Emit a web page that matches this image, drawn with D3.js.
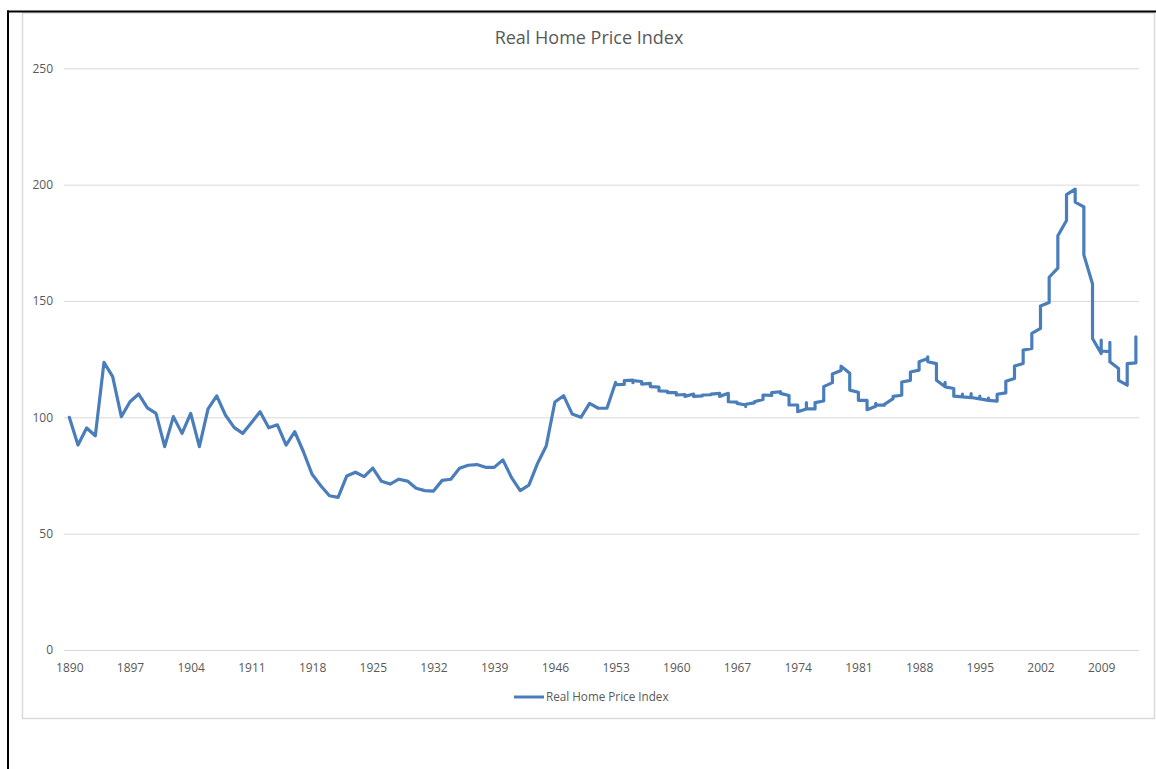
<!DOCTYPE html>
<html>
<head>
<meta charset="utf-8">
<script src="https://cdn.jsdelivr.net/npm/d3@7"></script>
<style>
  body { margin: 0; background: #fff; }
  text { font-family: "Open Sans", "Noto Sans", sans-serif; }
</style>
</head>
<body>
<script>
// years on the category axis, one entry per year
const years = d3.range(1890, 2014);

// annual values until 1952, after that the readings inside each year
const values = [
  100, 88.1, 95.4, 92.1, 123.6, 117.5, 100.3, 106.7, 110.0, 104.1,      // 1890-1899
  101.7, 87.4, 100.3, 93.1, 101.7, 87.4, 103.6, 109.2, 101.0, 95.7,     // 1900-1909
  93.1, 97.7, 102.4, 95.5, 96.8, 88.1, 93.8, 85.2, 75.5, 70.6,          // 1910-1919
  66.3, 65.6, 74.8, 76.4, 74.5, 78.2, 72.5, 71.3, 73.4, 72.6,           // 1920-1929
  69.5, 68.5, 68.3, 72.9, 73.4, 78.1, 79.4, 79.7, 78.5, 78.5,           // 1930-1939
  81.7, 74.1, 68.5, 70.9, 80.2, 87.7, 106.6, 109.3, 101.4, 100.0,       // 1940-1949
  106.0, 103.9, 103.9,                                                  // 1950-1952
  [115.0, 114.0], [114.2, 115.8], [116.0, 114.9, 115.8], [115.4, 114.3], [114.6, 113.2],
  [113.0, 111.4], [111.2, 110.6], [110.6, 109.6], [109.8, 109.0], [110.0, 109.0],
  [109.2, 109.6], [109.7, 110.0], [110.3, 109.0], [110.3, 106.7], [106.5, 106.0],
  [105.3, 104.6, 105.6], [106.2, 106.7], [107.7, 109.6], [109.4, 110.6], [111.0, 110.3],
  [109.4, 105.3], [105.3, 102.4], [103.6, 106.3, 103.6], [103.6, 106.3], [107.0, 113.2],
  [114.9, 118.6], [120.1, 122.0], [118.9, 111.7], [110.8, 107.3], [107.3, 103.3],
  [104.8, 106.0, 105.2], [105.2, 105.6], [108.0, 109.0], [109.5, 115.2], [115.9, 119.5],
  [120.3, 123.9], [125.3, 126.0, 123.9], [123.1, 115.9], [113.1, 115.0, 113.1], [112.4, 109.1],
  [108.8, 110.0, 108.8], [108.5, 110.2, 108.5], [107.9, 109.1, 107.9], [107.3, 108.3, 107.3], [107.0, 109.9],
  [110.5, 115.5], [116.7, 122.0], [123.1, 128.9], [129.6, 136.1], [138.2, 147.8],
  [149.3, 160.2], [164.1, 178.0], [184.6, 195.7], [198.1, 192.5], [190.4, 169.8],
  [157.3, 133.9], [127.4, 133.2, 128.5], [128.2, 132.2, 123.9], [121.0, 120.3, 115.9], [113.8, 123.1],
  [123.4, 134.6]                                                        // 2013
];

const xTicks = [1890, 1897, 1904, 1911, 1918, 1925, 1932, 1939, 1946, 1953,
  1960, 1967, 1974, 1981, 1988, 1995, 2002, 2009];
const yTicks = [0, 50, 100, 150, 200, 250];

const title = 'Real Home Price Index';
const seriesName = 'Real Home Price Index';

const draw = () => {
  const width = 1156;
  const height = 769;
  const plot = { left: 64, right: 1139, top: 68.3, bottom: 650 };
  const blue = '#4a7ebb';
  const grey = '#595959';

  const svg = d3.select('body')
    .append('svg')
    .attr('width', width)
    .attr('height', height);

  // chart frame (excel chart area)
  svg.append('rect')
    .attr('x', 22.5)
    .attr('y', 13)
    .attr('width', 1132)
    .attr('height', 705.5)
    .attr('fill', 'none')
    .attr('stroke', '#d9d9d9')
    .attr('stroke-width', 1.5);

  // black page lines
  svg.append('line')
    .attr('x1', 7).attr('x2', width)
    .attr('y1', 11.5).attr('y2', 11.5)
    .attr('stroke', '#000')
    .attr('stroke-width', 2);

  svg.append('line')
    .attr('x1', 8).attr('x2', 8)
    .attr('y1', 10.5).attr('y2', height)
    .attr('stroke', '#000')
    .attr('stroke-width', 2);

  const points = [];
  years.forEach((yr, i) => {
    const v = values[i];
    (Array.isArray(v) ? v : [v]).forEach((d) => points.push({ x: yr, y: d }));
  });

  const escalaX = d3.scaleLinear()
    .domain([1890, 2009])
    .range([69.3, 1101.2]);

  const escalaY = d3.scaleLinear()
    .domain([0, 250])
    .range([plot.bottom, plot.top]);

  const ejeY = d3.axisLeft(escalaY)
    .tickValues(yTicks)
    .tickSize(-(plot.right - plot.left))
    .tickPadding(11);

  const contenedorEjeY = svg.append('g')
    .attr('transform', `translate(${plot.left}, 0)`)
    .call(ejeY);

  contenedorEjeY.select('.domain').remove();

  contenedorEjeY.selectAll('line')
    .attr('stroke', '#d9d9d9')
    .attr('stroke-width', 1);

  contenedorEjeY.selectAll('text')
    .attr('font-size', 12)
    .attr('fill', grey)
    .style('font-family', '"Open Sans", sans-serif');

  const ejeX = d3.axisBottom(escalaX)
    .tickValues(xTicks)
    .tickFormat(d3.format('d'))
    .tickSize(0)
    .tickPadding(13);

  const contenedorEjeX = svg.append('g')
    .attr('transform', `translate(0, ${plot.bottom})`)
    .call(ejeX);

  contenedorEjeX.select('.domain').remove();

  contenedorEjeX.selectAll('text')
    .attr('font-size', 12)
    .attr('fill', grey)
    .style('font-family', '"Open Sans", sans-serif');

  const linea = d3.line()
    .x((d) => escalaX(d.x))
    .y((d) => escalaY(d.y));

  svg.append('path')
    .datum(points)
    .attr('d', linea)
    .attr('fill', 'none')
    .attr('stroke', blue)
    .attr('stroke-width', 3.2)
    .attr('stroke-linejoin', 'round')
    .attr('stroke-linecap', 'round');

  svg.append('text')
    .attr('x', 589)
    .attr('y', 44)
    .attr('text-anchor', 'middle')
    .attr('font-size', 18)
    .attr('fill', grey)
    .text(title);

  // legend
  const legend = svg.append('g')
    .attr('transform', 'translate(514, 697)');

  legend.append('line')
    .attr('x1', 0).attr('x2', 30)
    .attr('y1', 0).attr('y2', 0)
    .attr('stroke', blue)
    .attr('stroke-width', 3);

  legend.append('text')
    .attr('x', 32)
    .attr('y', 4)
    .attr('font-size', 11.7)
    .attr('fill', grey)
    .text(seriesName);
};

draw();
</script>
</body>
</html>
